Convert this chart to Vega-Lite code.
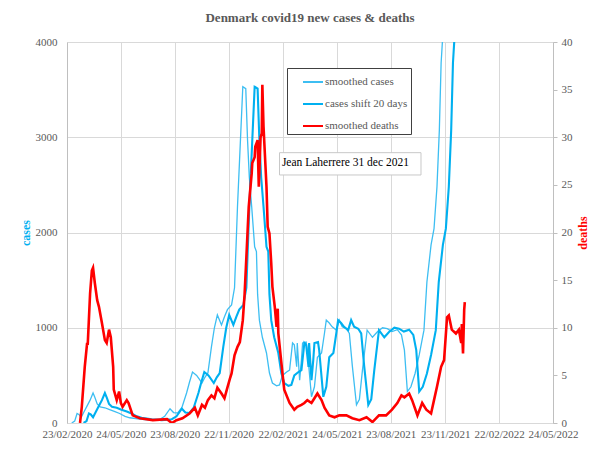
{
  "$schema": "https://vega.github.io/schema/vega-lite/v6.json",
  "width": 486,
  "height": 381,
  "autosize": {"type": "none"},
  "padding": {"left": 67, "top": 42, "right": 44, "bottom": 31},
  "background": "white",
  "title": {"text": "Denmark covid19 new cases & deaths", "font": "Liberation Serif", "fontSize": 13, "fontWeight": "bold", "color": "#595959", "anchor": "middle", "baseline": "bottom", "offset": -2},
  "datasets": {
    "cases": [
      {"date": "2020-03-02", "series": "smoothed cases", "cases": 0},
      {"date": "2020-03-07", "series": "smoothed cases", "cases": 20},
      {"date": "2020-03-11", "series": "smoothed cases", "cases": 100},
      {"date": "2020-03-14", "series": "smoothed cases", "cases": 90},
      {"date": "2020-03-18", "series": "smoothed cases", "cases": 60},
      {"date": "2020-03-23", "series": "smoothed cases", "cases": 120},
      {"date": "2020-03-28", "series": "smoothed cases", "cases": 180},
      {"date": "2020-04-02", "series": "smoothed cases", "cases": 240},
      {"date": "2020-04-07", "series": "smoothed cases", "cases": 315},
      {"date": "2020-04-10", "series": "smoothed cases", "cases": 270},
      {"date": "2020-04-14", "series": "smoothed cases", "cases": 200},
      {"date": "2020-04-19", "series": "smoothed cases", "cases": 170},
      {"date": "2020-04-27", "series": "smoothed cases", "cases": 160},
      {"date": "2020-05-05", "series": "smoothed cases", "cases": 140},
      {"date": "2020-05-14", "series": "smoothed cases", "cases": 120},
      {"date": "2020-05-22", "series": "smoothed cases", "cases": 100},
      {"date": "2020-05-31", "series": "smoothed cases", "cases": 70},
      {"date": "2020-06-08", "series": "smoothed cases", "cases": 55},
      {"date": "2020-06-25", "series": "smoothed cases", "cases": 40},
      {"date": "2020-07-12", "series": "smoothed cases", "cases": 30},
      {"date": "2020-07-29", "series": "smoothed cases", "cases": 40},
      {"date": "2020-08-06", "series": "smoothed cases", "cases": 70},
      {"date": "2020-08-15", "series": "smoothed cases", "cases": 150},
      {"date": "2020-08-21", "series": "smoothed cases", "cases": 110},
      {"date": "2020-08-28", "series": "smoothed cases", "cases": 105},
      {"date": "2020-09-04", "series": "smoothed cases", "cases": 160},
      {"date": "2020-09-12", "series": "smoothed cases", "cases": 315},
      {"date": "2020-09-17", "series": "smoothed cases", "cases": 430},
      {"date": "2020-09-22", "series": "smoothed cases", "cases": 535},
      {"date": "2020-09-29", "series": "smoothed cases", "cases": 500},
      {"date": "2020-10-08", "series": "smoothed cases", "cases": 420},
      {"date": "2020-10-13", "series": "smoothed cases", "cases": 480},
      {"date": "2020-10-18", "series": "smoothed cases", "cases": 525},
      {"date": "2020-10-24", "series": "smoothed cases", "cases": 800},
      {"date": "2020-10-29", "series": "smoothed cases", "cases": 1000},
      {"date": "2020-11-03", "series": "smoothed cases", "cases": 1135},
      {"date": "2020-11-10", "series": "smoothed cases", "cases": 1030},
      {"date": "2020-11-15", "series": "smoothed cases", "cases": 1115},
      {"date": "2020-11-20", "series": "smoothed cases", "cases": 1190},
      {"date": "2020-11-27", "series": "smoothed cases", "cases": 1240},
      {"date": "2020-12-02", "series": "smoothed cases", "cases": 1420},
      {"date": "2020-12-07", "series": "smoothed cases", "cases": 2270},
      {"date": "2020-12-12", "series": "smoothed cases", "cases": 2970},
      {"date": "2020-12-16", "series": "smoothed cases", "cases": 3530},
      {"date": "2020-12-21", "series": "smoothed cases", "cases": 3510},
      {"date": "2020-12-24", "series": "smoothed cases", "cases": 2970},
      {"date": "2020-12-27", "series": "smoothed cases", "cases": 2580},
      {"date": "2020-12-31", "series": "smoothed cases", "cases": 2270},
      {"date": "2021-01-05", "series": "smoothed cases", "cases": 1850},
      {"date": "2021-01-08", "series": "smoothed cases", "cases": 1800},
      {"date": "2021-01-10", "series": "smoothed cases", "cases": 1350},
      {"date": "2021-01-13", "series": "smoothed cases", "cases": 1080},
      {"date": "2021-01-18", "series": "smoothed cases", "cases": 900},
      {"date": "2021-01-25", "series": "smoothed cases", "cases": 735},
      {"date": "2021-01-30", "series": "smoothed cases", "cases": 525},
      {"date": "2021-02-04", "series": "smoothed cases", "cases": 420},
      {"date": "2021-02-11", "series": "smoothed cases", "cases": 390},
      {"date": "2021-02-16", "series": "smoothed cases", "cases": 400},
      {"date": "2021-02-21", "series": "smoothed cases", "cases": 500},
      {"date": "2021-02-28", "series": "smoothed cases", "cases": 535},
      {"date": "2021-03-05", "series": "smoothed cases", "cases": 555},
      {"date": "2021-03-10", "series": "smoothed cases", "cases": 840},
      {"date": "2021-03-13", "series": "smoothed cases", "cases": 820},
      {"date": "2021-03-17", "series": "smoothed cases", "cases": 590},
      {"date": "2021-03-18", "series": "smoothed cases", "cases": 840},
      {"date": "2021-03-22", "series": "smoothed cases", "cases": 450},
      {"date": "2021-03-25", "series": "smoothed cases", "cases": 660},
      {"date": "2021-03-27", "series": "smoothed cases", "cases": 840},
      {"date": "2021-04-02", "series": "smoothed cases", "cases": 850},
      {"date": "2021-04-04", "series": "smoothed cases", "cases": 765},
      {"date": "2021-04-11", "series": "smoothed cases", "cases": 275},
      {"date": "2021-04-16", "series": "smoothed cases", "cases": 380},
      {"date": "2021-04-21", "series": "smoothed cases", "cases": 690},
      {"date": "2021-04-28", "series": "smoothed cases", "cases": 735},
      {"date": "2021-05-03", "series": "smoothed cases", "cases": 945},
      {"date": "2021-05-06", "series": "smoothed cases", "cases": 1080},
      {"date": "2021-05-11", "series": "smoothed cases", "cases": 1050},
      {"date": "2021-05-16", "series": "smoothed cases", "cases": 1010},
      {"date": "2021-05-23", "series": "smoothed cases", "cases": 975},
      {"date": "2021-05-28", "series": "smoothed cases", "cases": 1080},
      {"date": "2021-06-02", "series": "smoothed cases", "cases": 1010},
      {"date": "2021-06-09", "series": "smoothed cases", "cases": 990},
      {"date": "2021-06-14", "series": "smoothed cases", "cases": 940},
      {"date": "2021-06-19", "series": "smoothed cases", "cases": 600},
      {"date": "2021-06-26", "series": "smoothed cases", "cases": 190},
      {"date": "2021-07-01", "series": "smoothed cases", "cases": 250},
      {"date": "2021-07-06", "series": "smoothed cases", "cases": 550},
      {"date": "2021-07-14", "series": "smoothed cases", "cases": 975},
      {"date": "2021-07-23", "series": "smoothed cases", "cases": 900},
      {"date": "2021-07-31", "series": "smoothed cases", "cases": 955},
      {"date": "2021-08-09", "series": "smoothed cases", "cases": 1000},
      {"date": "2021-08-17", "series": "smoothed cases", "cases": 990},
      {"date": "2021-08-25", "series": "smoothed cases", "cases": 960},
      {"date": "2021-09-03", "series": "smoothed cases", "cases": 980},
      {"date": "2021-09-10", "series": "smoothed cases", "cases": 925},
      {"date": "2021-09-15", "series": "smoothed cases", "cases": 765},
      {"date": "2021-09-20", "series": "smoothed cases", "cases": 330},
      {"date": "2021-09-26", "series": "smoothed cases", "cases": 380},
      {"date": "2021-10-03", "series": "smoothed cases", "cases": 520},
      {"date": "2021-10-10", "series": "smoothed cases", "cases": 714},
      {"date": "2021-10-18", "series": "smoothed cases", "cases": 975},
      {"date": "2021-10-23", "series": "smoothed cases", "cases": 1480},
      {"date": "2021-10-30", "series": "smoothed cases", "cases": 1870},
      {"date": "2021-11-04", "series": "smoothed cases", "cases": 2040},
      {"date": "2021-11-09", "series": "smoothed cases", "cases": 2480},
      {"date": "2021-11-13", "series": "smoothed cases", "cases": 3075},
      {"date": "2021-11-16", "series": "smoothed cases", "cases": 3780},
      {"date": "2021-11-23", "series": "smoothed cases", "cases": 4500},
      {"date": "2021-12-03", "series": "smoothed cases", "cases": 6000},
      {"date": "2021-12-16", "series": "smoothed cases", "cases": 9000},
      {"date": "2021-12-31", "series": "smoothed cases", "cases": 16000},
      {"date": "2020-03-22", "series": "cases shift 20 days", "cases": 0},
      {"date": "2020-03-27", "series": "cases shift 20 days", "cases": 20},
      {"date": "2020-03-31", "series": "cases shift 20 days", "cases": 100},
      {"date": "2020-04-03", "series": "cases shift 20 days", "cases": 90},
      {"date": "2020-04-07", "series": "cases shift 20 days", "cases": 60},
      {"date": "2020-04-12", "series": "cases shift 20 days", "cases": 120},
      {"date": "2020-04-17", "series": "cases shift 20 days", "cases": 180},
      {"date": "2020-04-22", "series": "cases shift 20 days", "cases": 240},
      {"date": "2020-04-27", "series": "cases shift 20 days", "cases": 315},
      {"date": "2020-04-30", "series": "cases shift 20 days", "cases": 270},
      {"date": "2020-05-04", "series": "cases shift 20 days", "cases": 200},
      {"date": "2020-05-09", "series": "cases shift 20 days", "cases": 170},
      {"date": "2020-05-17", "series": "cases shift 20 days", "cases": 160},
      {"date": "2020-05-25", "series": "cases shift 20 days", "cases": 140},
      {"date": "2020-06-03", "series": "cases shift 20 days", "cases": 120},
      {"date": "2020-06-11", "series": "cases shift 20 days", "cases": 100},
      {"date": "2020-06-20", "series": "cases shift 20 days", "cases": 70},
      {"date": "2020-06-28", "series": "cases shift 20 days", "cases": 55},
      {"date": "2020-07-15", "series": "cases shift 20 days", "cases": 40},
      {"date": "2020-08-01", "series": "cases shift 20 days", "cases": 30},
      {"date": "2020-08-18", "series": "cases shift 20 days", "cases": 40},
      {"date": "2020-08-26", "series": "cases shift 20 days", "cases": 70},
      {"date": "2020-09-04", "series": "cases shift 20 days", "cases": 150},
      {"date": "2020-09-10", "series": "cases shift 20 days", "cases": 110},
      {"date": "2020-09-17", "series": "cases shift 20 days", "cases": 105},
      {"date": "2020-09-24", "series": "cases shift 20 days", "cases": 160},
      {"date": "2020-10-02", "series": "cases shift 20 days", "cases": 315},
      {"date": "2020-10-07", "series": "cases shift 20 days", "cases": 430},
      {"date": "2020-10-12", "series": "cases shift 20 days", "cases": 535},
      {"date": "2020-10-19", "series": "cases shift 20 days", "cases": 500},
      {"date": "2020-10-28", "series": "cases shift 20 days", "cases": 420},
      {"date": "2020-11-02", "series": "cases shift 20 days", "cases": 480},
      {"date": "2020-11-07", "series": "cases shift 20 days", "cases": 525},
      {"date": "2020-11-13", "series": "cases shift 20 days", "cases": 800},
      {"date": "2020-11-18", "series": "cases shift 20 days", "cases": 1000},
      {"date": "2020-11-23", "series": "cases shift 20 days", "cases": 1135},
      {"date": "2020-11-30", "series": "cases shift 20 days", "cases": 1030},
      {"date": "2020-12-05", "series": "cases shift 20 days", "cases": 1115},
      {"date": "2020-12-10", "series": "cases shift 20 days", "cases": 1190},
      {"date": "2020-12-17", "series": "cases shift 20 days", "cases": 1240},
      {"date": "2020-12-22", "series": "cases shift 20 days", "cases": 1420},
      {"date": "2020-12-27", "series": "cases shift 20 days", "cases": 2270},
      {"date": "2021-01-01", "series": "cases shift 20 days", "cases": 2970},
      {"date": "2021-01-05", "series": "cases shift 20 days", "cases": 3530},
      {"date": "2021-01-10", "series": "cases shift 20 days", "cases": 3510},
      {"date": "2021-01-13", "series": "cases shift 20 days", "cases": 2970},
      {"date": "2021-01-16", "series": "cases shift 20 days", "cases": 2580},
      {"date": "2021-01-20", "series": "cases shift 20 days", "cases": 2270},
      {"date": "2021-01-25", "series": "cases shift 20 days", "cases": 1850},
      {"date": "2021-01-28", "series": "cases shift 20 days", "cases": 1800},
      {"date": "2021-01-30", "series": "cases shift 20 days", "cases": 1350},
      {"date": "2021-02-02", "series": "cases shift 20 days", "cases": 1080},
      {"date": "2021-02-07", "series": "cases shift 20 days", "cases": 900},
      {"date": "2021-02-14", "series": "cases shift 20 days", "cases": 735},
      {"date": "2021-02-19", "series": "cases shift 20 days", "cases": 525},
      {"date": "2021-02-24", "series": "cases shift 20 days", "cases": 420},
      {"date": "2021-03-03", "series": "cases shift 20 days", "cases": 390},
      {"date": "2021-03-08", "series": "cases shift 20 days", "cases": 400},
      {"date": "2021-03-13", "series": "cases shift 20 days", "cases": 500},
      {"date": "2021-03-20", "series": "cases shift 20 days", "cases": 535},
      {"date": "2021-03-25", "series": "cases shift 20 days", "cases": 555},
      {"date": "2021-03-30", "series": "cases shift 20 days", "cases": 840},
      {"date": "2021-04-02", "series": "cases shift 20 days", "cases": 820},
      {"date": "2021-04-06", "series": "cases shift 20 days", "cases": 590},
      {"date": "2021-04-07", "series": "cases shift 20 days", "cases": 840},
      {"date": "2021-04-11", "series": "cases shift 20 days", "cases": 450},
      {"date": "2021-04-14", "series": "cases shift 20 days", "cases": 660},
      {"date": "2021-04-16", "series": "cases shift 20 days", "cases": 840},
      {"date": "2021-04-22", "series": "cases shift 20 days", "cases": 850},
      {"date": "2021-04-24", "series": "cases shift 20 days", "cases": 765},
      {"date": "2021-05-01", "series": "cases shift 20 days", "cases": 275},
      {"date": "2021-05-06", "series": "cases shift 20 days", "cases": 380},
      {"date": "2021-05-11", "series": "cases shift 20 days", "cases": 690},
      {"date": "2021-05-18", "series": "cases shift 20 days", "cases": 735},
      {"date": "2021-05-23", "series": "cases shift 20 days", "cases": 945},
      {"date": "2021-05-26", "series": "cases shift 20 days", "cases": 1080},
      {"date": "2021-05-31", "series": "cases shift 20 days", "cases": 1050},
      {"date": "2021-06-05", "series": "cases shift 20 days", "cases": 1010},
      {"date": "2021-06-12", "series": "cases shift 20 days", "cases": 975},
      {"date": "2021-06-17", "series": "cases shift 20 days", "cases": 1080},
      {"date": "2021-06-22", "series": "cases shift 20 days", "cases": 1010},
      {"date": "2021-06-29", "series": "cases shift 20 days", "cases": 990},
      {"date": "2021-07-04", "series": "cases shift 20 days", "cases": 940},
      {"date": "2021-07-09", "series": "cases shift 20 days", "cases": 600},
      {"date": "2021-07-16", "series": "cases shift 20 days", "cases": 190},
      {"date": "2021-07-21", "series": "cases shift 20 days", "cases": 250},
      {"date": "2021-07-26", "series": "cases shift 20 days", "cases": 550},
      {"date": "2021-08-03", "series": "cases shift 20 days", "cases": 975},
      {"date": "2021-08-12", "series": "cases shift 20 days", "cases": 900},
      {"date": "2021-08-20", "series": "cases shift 20 days", "cases": 955},
      {"date": "2021-08-29", "series": "cases shift 20 days", "cases": 1000},
      {"date": "2021-09-06", "series": "cases shift 20 days", "cases": 990},
      {"date": "2021-09-14", "series": "cases shift 20 days", "cases": 960},
      {"date": "2021-09-23", "series": "cases shift 20 days", "cases": 980},
      {"date": "2021-09-30", "series": "cases shift 20 days", "cases": 925},
      {"date": "2021-10-05", "series": "cases shift 20 days", "cases": 765},
      {"date": "2021-10-10", "series": "cases shift 20 days", "cases": 330},
      {"date": "2021-10-16", "series": "cases shift 20 days", "cases": 380},
      {"date": "2021-10-23", "series": "cases shift 20 days", "cases": 520},
      {"date": "2021-10-30", "series": "cases shift 20 days", "cases": 714},
      {"date": "2021-11-07", "series": "cases shift 20 days", "cases": 975},
      {"date": "2021-11-12", "series": "cases shift 20 days", "cases": 1480},
      {"date": "2021-11-19", "series": "cases shift 20 days", "cases": 1870},
      {"date": "2021-11-24", "series": "cases shift 20 days", "cases": 2040},
      {"date": "2021-11-29", "series": "cases shift 20 days", "cases": 2480},
      {"date": "2021-12-03", "series": "cases shift 20 days", "cases": 3075},
      {"date": "2021-12-06", "series": "cases shift 20 days", "cases": 3780},
      {"date": "2021-12-13", "series": "cases shift 20 days", "cases": 4500},
      {"date": "2021-12-23", "series": "cases shift 20 days", "cases": 6000},
      {"date": "2022-01-05", "series": "cases shift 20 days", "cases": 9000},
      {"date": "2022-01-20", "series": "cases shift 20 days", "cases": 16000}
    ],
    "deaths": [
      {"date": "2020-03-16", "series": "smoothed deaths", "deaths": 0},
      {"date": "2020-03-19", "series": "smoothed deaths", "deaths": 1.7},
      {"date": "2020-03-24", "series": "smoothed deaths", "deaths": 5.9},
      {"date": "2020-03-28", "series": "smoothed deaths", "deaths": 8.4},
      {"date": "2020-03-29", "series": "smoothed deaths", "deaths": 8.2},
      {"date": "2020-04-02", "series": "smoothed deaths", "deaths": 13.6},
      {"date": "2020-04-05", "series": "smoothed deaths", "deaths": 16},
      {"date": "2020-04-07", "series": "smoothed deaths", "deaths": 16.3},
      {"date": "2020-04-10", "series": "smoothed deaths", "deaths": 14.7},
      {"date": "2020-04-14", "series": "smoothed deaths", "deaths": 12.9},
      {"date": "2020-04-17", "series": "smoothed deaths", "deaths": 12.2},
      {"date": "2020-04-22", "series": "smoothed deaths", "deaths": 10.5},
      {"date": "2020-04-27", "series": "smoothed deaths", "deaths": 8.7},
      {"date": "2020-04-30", "series": "smoothed deaths", "deaths": 8.4},
      {"date": "2020-05-04", "series": "smoothed deaths", "deaths": 9.8},
      {"date": "2020-05-07", "series": "smoothed deaths", "deaths": 9.0},
      {"date": "2020-05-11", "series": "smoothed deaths", "deaths": 5.9},
      {"date": "2020-05-12", "series": "smoothed deaths", "deaths": 3.5},
      {"date": "2020-05-17", "series": "smoothed deaths", "deaths": 2.4},
      {"date": "2020-05-21", "series": "smoothed deaths", "deaths": 3.3},
      {"date": "2020-05-24", "series": "smoothed deaths", "deaths": 2.1},
      {"date": "2020-05-27", "series": "smoothed deaths", "deaths": 1.7},
      {"date": "2020-06-03", "series": "smoothed deaths", "deaths": 2.4},
      {"date": "2020-06-06", "series": "smoothed deaths", "deaths": 2.1},
      {"date": "2020-06-13", "series": "smoothed deaths", "deaths": 0.8},
      {"date": "2020-06-25", "series": "smoothed deaths", "deaths": 0.5},
      {"date": "2020-07-17", "series": "smoothed deaths", "deaths": 0.3},
      {"date": "2020-08-10", "series": "smoothed deaths", "deaths": 0.4},
      {"date": "2020-08-18", "series": "smoothed deaths", "deaths": 0},
      {"date": "2020-08-26", "series": "smoothed deaths", "deaths": 0.3},
      {"date": "2020-09-05", "series": "smoothed deaths", "deaths": 0.5},
      {"date": "2020-09-17", "series": "smoothed deaths", "deaths": 1.0},
      {"date": "2020-09-26", "series": "smoothed deaths", "deaths": 1.6},
      {"date": "2020-10-01", "series": "smoothed deaths", "deaths": 0.8},
      {"date": "2020-10-08", "series": "smoothed deaths", "deaths": 1.9},
      {"date": "2020-10-13", "series": "smoothed deaths", "deaths": 1.6},
      {"date": "2020-10-18", "series": "smoothed deaths", "deaths": 2.4},
      {"date": "2020-10-24", "series": "smoothed deaths", "deaths": 2.9},
      {"date": "2020-10-29", "series": "smoothed deaths", "deaths": 2.6},
      {"date": "2020-11-03", "series": "smoothed deaths", "deaths": 3.7},
      {"date": "2020-11-10", "series": "smoothed deaths", "deaths": 3.1},
      {"date": "2020-11-15", "series": "smoothed deaths", "deaths": 2.6},
      {"date": "2020-11-19", "series": "smoothed deaths", "deaths": 3.5},
      {"date": "2020-11-24", "series": "smoothed deaths", "deaths": 4.6},
      {"date": "2020-11-27", "series": "smoothed deaths", "deaths": 5.2},
      {"date": "2020-12-02", "series": "smoothed deaths", "deaths": 7.1},
      {"date": "2020-12-07", "series": "smoothed deaths", "deaths": 8.0},
      {"date": "2020-12-11", "series": "smoothed deaths", "deaths": 8.5},
      {"date": "2020-12-16", "series": "smoothed deaths", "deaths": 10.8},
      {"date": "2020-12-19", "series": "smoothed deaths", "deaths": 13.5},
      {"date": "2020-12-22", "series": "smoothed deaths", "deaths": 17.4},
      {"date": "2020-12-26", "series": "smoothed deaths", "deaths": 22.7},
      {"date": "2020-12-31", "series": "smoothed deaths", "deaths": 26.2},
      {"date": "2021-01-01", "series": "smoothed deaths", "deaths": 27.3},
      {"date": "2021-01-05", "series": "smoothed deaths", "deaths": 27.9},
      {"date": "2021-01-06", "series": "smoothed deaths", "deaths": 29},
      {"date": "2021-01-10", "series": "smoothed deaths", "deaths": 29.7},
      {"date": "2021-01-12", "series": "smoothed deaths", "deaths": 24.8},
      {"date": "2021-01-15", "series": "smoothed deaths", "deaths": 30},
      {"date": "2021-01-17", "series": "smoothed deaths", "deaths": 30.4},
      {"date": "2021-01-18", "series": "smoothed deaths", "deaths": 35.5},
      {"date": "2021-01-20", "series": "smoothed deaths", "deaths": 31.1},
      {"date": "2021-01-25", "series": "smoothed deaths", "deaths": 24.8},
      {"date": "2021-01-27", "series": "smoothed deaths", "deaths": 20.6},
      {"date": "2021-01-30", "series": "smoothed deaths", "deaths": 19.9},
      {"date": "2021-02-02", "series": "smoothed deaths", "deaths": 16.8},
      {"date": "2021-02-04", "series": "smoothed deaths", "deaths": 14.3},
      {"date": "2021-02-08", "series": "smoothed deaths", "deaths": 12.2},
      {"date": "2021-02-11", "series": "smoothed deaths", "deaths": 10.1},
      {"date": "2021-02-13", "series": "smoothed deaths", "deaths": 12},
      {"date": "2021-02-14", "series": "smoothed deaths", "deaths": 9.4},
      {"date": "2021-02-18", "series": "smoothed deaths", "deaths": 7.0},
      {"date": "2021-02-21", "series": "smoothed deaths", "deaths": 5.2},
      {"date": "2021-02-24", "series": "smoothed deaths", "deaths": 3.5},
      {"date": "2021-03-05", "series": "smoothed deaths", "deaths": 2.1},
      {"date": "2021-03-13", "series": "smoothed deaths", "deaths": 1.4},
      {"date": "2021-03-18", "series": "smoothed deaths", "deaths": 1.7},
      {"date": "2021-03-25", "series": "smoothed deaths", "deaths": 1.9},
      {"date": "2021-03-30", "series": "smoothed deaths", "deaths": 2.1},
      {"date": "2021-04-04", "series": "smoothed deaths", "deaths": 2.4},
      {"date": "2021-04-11", "series": "smoothed deaths", "deaths": 2.1},
      {"date": "2021-04-16", "series": "smoothed deaths", "deaths": 2.6},
      {"date": "2021-04-21", "series": "smoothed deaths", "deaths": 3.1},
      {"date": "2021-04-28", "series": "smoothed deaths", "deaths": 2.4},
      {"date": "2021-05-03", "series": "smoothed deaths", "deaths": 1.6},
      {"date": "2021-05-11", "series": "smoothed deaths", "deaths": 0.8},
      {"date": "2021-05-20", "series": "smoothed deaths", "deaths": 0.6},
      {"date": "2021-05-28", "series": "smoothed deaths", "deaths": 0.8},
      {"date": "2021-06-09", "series": "smoothed deaths", "deaths": 0.8},
      {"date": "2021-06-19", "series": "smoothed deaths", "deaths": 0.5},
      {"date": "2021-07-01", "series": "smoothed deaths", "deaths": 0.3},
      {"date": "2021-07-13", "series": "smoothed deaths", "deaths": 0.6},
      {"date": "2021-07-23", "series": "smoothed deaths", "deaths": 0.1},
      {"date": "2021-08-03", "series": "smoothed deaths", "deaths": 0.8},
      {"date": "2021-08-15", "series": "smoothed deaths", "deaths": 0.8},
      {"date": "2021-08-25", "series": "smoothed deaths", "deaths": 1.4},
      {"date": "2021-09-03", "series": "smoothed deaths", "deaths": 2.1},
      {"date": "2021-09-10", "series": "smoothed deaths", "deaths": 2.9},
      {"date": "2021-09-15", "series": "smoothed deaths", "deaths": 2.7},
      {"date": "2021-09-23", "series": "smoothed deaths", "deaths": 3.1},
      {"date": "2021-09-28", "series": "smoothed deaths", "deaths": 2.4},
      {"date": "2021-10-07", "series": "smoothed deaths", "deaths": 0.8},
      {"date": "2021-10-15", "series": "smoothed deaths", "deaths": 2.1},
      {"date": "2021-10-22", "series": "smoothed deaths", "deaths": 1.4},
      {"date": "2021-10-30", "series": "smoothed deaths", "deaths": 1.0},
      {"date": "2021-11-04", "series": "smoothed deaths", "deaths": 2.4},
      {"date": "2021-11-09", "series": "smoothed deaths", "deaths": 3.8},
      {"date": "2021-11-16", "series": "smoothed deaths", "deaths": 5.9},
      {"date": "2021-11-21", "series": "smoothed deaths", "deaths": 6.6},
      {"date": "2021-11-26", "series": "smoothed deaths", "deaths": 11.1},
      {"date": "2021-11-29", "series": "smoothed deaths", "deaths": 11.3},
      {"date": "2021-12-04", "series": "smoothed deaths", "deaths": 9.8},
      {"date": "2021-12-11", "series": "smoothed deaths", "deaths": 9.4},
      {"date": "2021-12-16", "series": "smoothed deaths", "deaths": 9.8},
      {"date": "2021-12-20", "series": "smoothed deaths", "deaths": 8.4},
      {"date": "2021-12-21", "series": "smoothed deaths", "deaths": 10.4},
      {"date": "2021-12-23", "series": "smoothed deaths", "deaths": 7.3},
      {"date": "2021-12-25", "series": "smoothed deaths", "deaths": 11.9},
      {"date": "2021-12-26", "series": "smoothed deaths", "deaths": 12.7}
    ]
  },
  "layer": [
    {
      "layer": [
        {
          "data": {"name": "cases"},
          "transform": [{"filter": "datum.series === 'smoothed cases'"}],
          "mark": {"type": "line", "strokeWidth": 1.3, "clip": true},
          "encoding": {
            "x": {
              "field": "date", "type": "temporal", "title": null,
              "scale": {"type": "utc", "domain": [{"year": 2020, "month": 2, "date": 23, "utc": true}, {"year": 2022, "month": 5, "date": 24, "utc": true}]},
              "axis": {
                "values": [
                  {"year": 2020, "month": 2, "date": 23, "utc": true},
                  {"year": 2020, "month": 5, "date": 24, "utc": true},
                  {"year": 2020, "month": 8, "date": 23, "utc": true},
                  {"year": 2020, "month": 11, "date": 22, "utc": true},
                  {"year": 2021, "month": 2, "date": 22, "utc": true},
                  {"year": 2021, "month": 5, "date": 24, "utc": true},
                  {"year": 2021, "month": 8, "date": 23, "utc": true},
                  {"year": 2021, "month": 11, "date": 23, "utc": true},
                  {"year": 2022, "month": 2, "date": 22, "utc": true},
                  {"year": 2022, "month": 5, "date": 24, "utc": true}
                ],
                "format": "%d/%m/%Y", "ticks": false, "grid": true, "gridColor": "#d9d9d9",
                "domainColor": "#d9d9d9", "labelFont": "Liberation Serif", "labelFontSize": 11,
                "labelColor": "#595959", "labelPadding": 5, "labelFlush": false, "labelOverlap": false, "labelAngle": 0
              }
            },
            "y": {
              "field": "cases", "type": "quantitative", "title": "cases",
              "scale": {"domain": [0, 4000]},
              "axis": {
                "orient": "left", "values": [0, 1000, 2000, 3000, 4000], "format": "d",
                "grid": true, "gridColor": "#d9d9d9", "ticks": false, "domainColor": "#bfbfbf",
                "labelPadding": 10, "labelFont": "Liberation Serif", "labelFontSize": 11, "labelColor": "#595959",
                "titleFont": "Liberation Serif", "titleFontSize": 12, "titleFontWeight": "bold",
                "titleColor": "#00B0F0", "titlePadding": 3
              }
            },
            "color": {
              "field": "series", "type": "nominal",
              "scale": {"domain": ["smoothed cases", "cases shift 20 days", "smoothed deaths"], "range": ["#3DBEF2", "#00B0F0", "#FF0000"]},
              "legend": {
                "orient": "none", "legendX": 220, "legendY": 26, "title": null,
                "symbolType": "stroke", "symbolSize": 400, "symbolStrokeWidth": 2,
                "labelFont": "Liberation Serif", "labelFontSize": 11, "labelColor": "#595959",
                "padding": 3, "symbolOffset": 12, "labelOffset": 1, "rowPadding": 6,
                "strokeColor": "#404040", "fillColor": "white"
              }
            }
          }
        },
        {
          "data": {"name": "cases"},
          "transform": [{"filter": "datum.series === 'cases shift 20 days'"}],
          "mark": {"type": "line", "strokeWidth": 2.1, "clip": true},
          "encoding": {
            "x": {"field": "date", "type": "temporal", "title": null},
            "y": {"field": "cases", "type": "quantitative", "title": "cases"},
            "color": {"field": "series", "type": "nominal"}
          }
        },
        {
          "data": {"values": [{"note": "Jean Laherrere 31 dec 2021"}]},
          "mark": {"type": "rect", "fill": "white", "stroke": "#c8c8c8", "strokeWidth": 1},
          "encoding": {
            "x": {"datum": {"year": 2021, "month": 2, "date": 16, "utc": true}, "type": "temporal", "title": null},
            "x2": {"datum": {"year": 2021, "month": 10, "date": 13, "utc": true}},
            "y": {"datum": 2838, "type": "quantitative", "title": "cases"},
            "y2": {"datum": 2604}
          }
        },
        {
          "data": {"values": [{"note": "Jean Laherrere 31 dec 2021"}]},
          "mark": {"type": "text", "align": "left", "baseline": "middle", "font": "Liberation Serif", "fontSize": 11.5, "color": "#000000"},
          "encoding": {
            "x": {"datum": {"year": 2021, "month": 2, "date": 20, "utc": true}, "type": "temporal", "title": null},
            "y": {"datum": 2730, "type": "quantitative", "title": "cases"},
            "text": {"field": "note"}
          }
        }
      ]
    },
    {
      "data": {"name": "deaths"},
      "mark": {"type": "line", "strokeWidth": 2.6, "clip": true},
      "encoding": {
        "x": {"field": "date", "type": "temporal", "title": null},
        "y": {
          "field": "deaths", "type": "quantitative", "title": "deaths",
          "scale": {"domain": [0, 40]},
          "axis": {
            "orient": "right", "values": [0, 5, 10, 15, 20, 25, 30, 35, 40], "grid": false,
            "ticks": true, "tickSize": 4, "tickColor": "#bfbfbf", "domainColor": "#bfbfbf",
            "labelPadding": 4, "labelFont": "Liberation Serif", "labelFontSize": 11, "labelColor": "#595959",
            "titleFont": "Liberation Serif", "titleFontSize": 12, "titleFontWeight": "bold",
            "titleColor": "#FF0000", "titleAngle": -90, "titleBaseline": "top", "titlePadding": 5
          }
        },
        "color": {"field": "series", "type": "nominal"}
      }
    }
  ],
  "resolve": {"scale": {"y": "independent"}},
  "config": {
    "view": {"stroke": null},
    "font": "Liberation Serif"
  }
}
